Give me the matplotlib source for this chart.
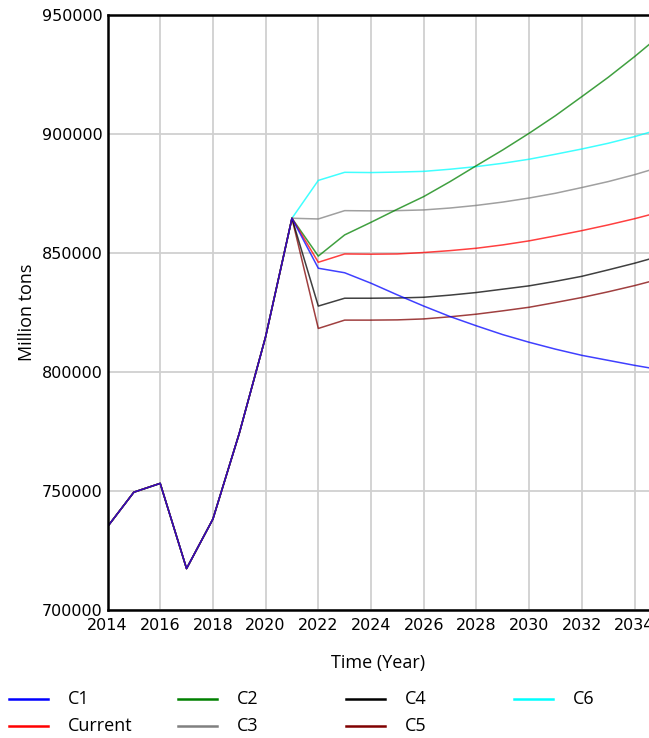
import matplotlib.pyplot as plt
from matplotlib.lines import Line2D

years = list(range(2014, 2036))

# shared history 2014-2021
hist = [735000, 749500, 753200, 717400, 738200, 774200, 814800, 864600]

c1 = hist + [843600, 841700, 837300, 832400, 827700, 823300, 819400, 815700,
             812500, 809600, 807000, 804900, 802800, 800900]
current = hist + [846100, 849600, 849500, 849600, 850200, 851000, 852000, 853400,
                  855100, 857200, 859400, 861800, 864400, 867300]
c2 = hist + [848700, 857600, 862900, 868400, 873700, 880000, 886700, 893300,
             900300, 907700, 915700, 923800, 932500, 941700]
c3 = hist + [864300, 867800, 867700, 867800, 868100, 868900, 870000, 871400,
             873100, 875100, 877500, 880000, 882900, 886200]
c4 = hist + [827700, 831000, 831000, 831100, 831400, 832300, 833400, 834800,
             836200, 838100, 840200, 842900, 845700, 848800]
c5 = hist + [818300, 821800, 821800, 821900, 822300, 823200, 824300, 825700,
             827200, 829200, 831300, 833700, 836300, 839200]
c6 = hist + [880500, 883900, 883800, 884000, 884300, 885200, 886300, 887700,
             889400, 891500, 893700, 896100, 898900, 902100]

series = [("C1", c1, "#0000ff"), ("Current", current, "#ff0000"),
          ("C2", c2, "#008000"), ("C3", c3, "#808080"),
          ("C4", c4, "#000000"), ("C5", c5, "#800000"),
          ("C6", c6, "#00ffff")]

W, H = 649, 738
fig = plt.figure(figsize=(W / 100, H / 100), dpi=100)
ax = fig.add_axes([107.5 / W, 1 - 610 / H, 1 - 107.5 / W, 595 / H])

# draw C1 last so it sits on top of the shared history
for name, vals, col in series[::-1]:
    ax.plot(years, vals, color=col, lw=1.1, alpha=0.75)

ax.set_xlim(2014, 2034.55)
ax.set_ylim(700000, 950000)
ax.set_xticks(range(2014, 2035, 2))
ax.set_yticks(range(700000, 950001, 50000))
ax.grid(True, color="#d0d0d0", lw=1.3)
ax.tick_params(length=0, labelsize=11.5)
ax.tick_params(axis="x", pad=6)
for s in ["left", "bottom", "top"]:
    ax.spines[s].set_linewidth(1.8)
ax.spines["right"].set_visible(False)

ax.set_xlabel("Time (Year)", family="Open Sans", fontsize=13, labelpad=15)
ax.set_ylabel("Million tons", family="Open Sans", fontsize=13, labelpad=4)

# legend laid out in fixed-width columns, filled top to bottom
col_x = [9, 178, 346, 514]
row_y = [698.5, 726]
for i, (name, _, col) in enumerate(series):
    cx = col_x[i // 2]
    cy = H - row_y[i % 2]
    fig.add_artist(Line2D([cx / W, (cx + 39) / W], [cy / H, cy / H],
                          color=col, lw=1.8, transform=fig.transFigure))
    fig.text((cx + 59) / W, cy / H, name, family="Open Sans", fontsize=13,
             va="center", ha="left")

fig.savefig("out.png", dpi=100)
